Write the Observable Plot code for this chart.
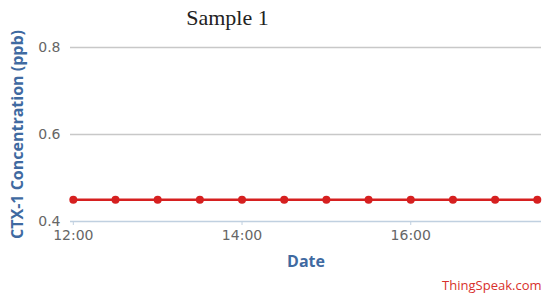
<!DOCTYPE html>
<html>
<head>
<meta charset="utf-8">
<script src="https://cdn.jsdelivr.net/npm/d3@7"></script>
<script src="https://cdn.jsdelivr.net/npm/@observablehq/plot@0.6"></script>
<style>
  html, body { margin: 0; padding: 0; background: #fff; }
</style>
</head>
<body>
<div id="chart"></div>
<script>
// ---- data ----
const times = ["12:00","12:30","13:00","13:30","14:00","14:30","15:00","15:30","16:00","16:30","17:00","17:30"];
const values = [0.45,0.45,0.45,0.45,0.45,0.45,0.45,0.45,0.45,0.45,0.45,0.45];
const xTicks = ["12:00","14:00","16:00"];
const yTicks = [0.4, 0.6, 0.8];
const xDomain = ["11:58","17:33"];
const yDomain = [0.4, 0.8];
const title = "Sample 1";
const yLabel = "CTX-1 Concentration (ppb)";
const xLabel = "Date";
const credits = "ThingSpeak.com";

const day = "2020-01-01T";
const toDate = t => new Date(day + t + ":00Z");
const data = times.map((t, i) => ({time: toDate(t), value: values[i]}));

const red = "#d62020";
const blue = "#3f6aa1";

const chart = Plot.plot({
  width: 550,
  height: 299,
  marginTop: 47,
  marginBottom: 78,
  marginLeft: 70,
  marginRight: 9,
  style: {fontFamily: "DejaVu Sans", fontSize: "14px", color: "#666", background: "#fff"},
  x: {type: "utc", domain: xDomain.map(toDate)},
  y: {domain: yDomain},
  marks: [
    Plot.gridY(yTicks.filter(v => v > yDomain[0]), {stroke: "#c8c8c8", strokeOpacity: 1, strokeWidth: 1.5}),
    Plot.ruleY([yDomain[0]], {stroke: "#c0d0e0", strokeWidth: 1.5}),
    Plot.axisY(yTicks, {tickSize: 0, tickPadding: 10, label: null, fill: "#666", fontSize: 14}),
    Plot.axisX(xTicks.map(toDate), {tickSize: 4, tickPadding: 5, stroke: "#c0d0e0", label: null,
      tickFormat: d3.utcFormat("%H:%M"), fill: "#666", fontSize: 14}),
    Plot.line(data, {x: "time", y: "value", stroke: red, strokeWidth: 2.5}),
    Plot.dot(data, {x: "time", y: "value", r: 4, fill: red, stroke: "none"}),
    Plot.text([title], {text: d => d, frameAnchor: "top", dx: -78.5, dy: -30, lineAnchor: "middle",
      fontFamily: "Liberation Serif", fontSize: 22, fill: "#222"}),
    Plot.text([yLabel], {text: d => d, frameAnchor: "left", textAnchor: "middle", dx: -53, rotate: -90, lineAnchor: "middle",
      fontFamily: "Open Sans", fontWeight: "bold", fontSize: 16, fill: blue}),
    Plot.text([xLabel], {text: d => d, frameAnchor: "bottom", dy: 40, lineAnchor: "middle",
      fontFamily: "Open Sans", fontWeight: "bold", fontSize: 16, fill: blue}),
    Plot.text([credits], {text: d => d, frameAnchor: "bottom-right", textAnchor: "end", dy: 64, lineAnchor: "middle",
      fontFamily: "Open Sans", fontSize: 13, fill: "#d8302c"})
  ]
});
document.getElementById("chart").appendChild(chart);
</script>
</body>
</html>
